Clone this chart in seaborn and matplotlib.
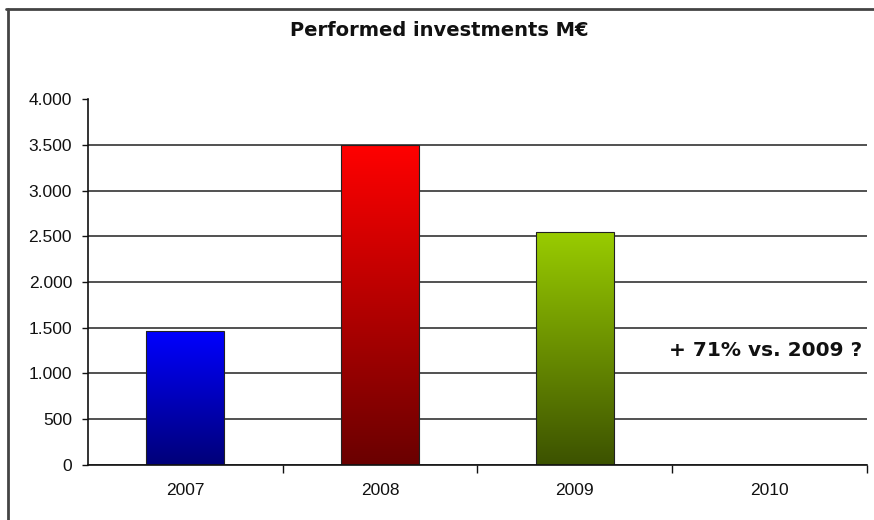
import numpy as np
import pandas as pd
import seaborn as sns
import matplotlib.pyplot as plt
from matplotlib.colors import LinearSegmentedColormap
from matplotlib.ticker import FuncFormatter, FixedLocator
from matplotlib.lines import Line2D

years = ['2007', '2008', '2009', '2010']
invest = [1460, 3500, 2550, 0]
top_colors = ['#0000ff', '#ff0000', '#99cc00', '#ffffff']
bottom_colors = ['#000078', '#6a0000', '#3c5200', '#ffffff']
yticks = [0, 500, 1000, 1500, 2000, 2500, 3000, 3500, 4000]

df = pd.DataFrame({'year': years, 'invest': invest})

sns.set_theme(style='white')
plt.rcParams['font.family'] = ['Liberation Sans', 'DejaVu Sans']

fig = plt.figure(figsize=(8.74, 5.20), dpi=100)
ax = fig.add_axes([0.1007, 0.1067, 0.891, 0.702])

sns.barplot(data=df, x='year', y='invest', hue='year', palette=top_colors,
            width=0.4, legend=False, edgecolor='#222222', linewidth=0.8, ax=ax)

# gradient fill clipped to each bar
for patch, c_top, c_bot in zip(ax.patches, top_colors, bottom_colors):
    h = patch.get_height()
    if h <= 0:
        continue
    x0 = patch.get_x()
    w = patch.get_width()
    cmap = LinearSegmentedColormap.from_list('g', [c_bot, c_top])
    grad = np.linspace(0, 1, 256).reshape(-1, 1)
    im = ax.imshow(grad, cmap=cmap, origin='lower', aspect='auto',
                   extent=(x0, x0 + w, 0, h), zorder=patch.get_zorder())
    im.set_clip_path(patch)
    patch.set_facecolor('none')
    patch.set_zorder(patch.get_zorder() + 0.1)
ax.set_xlim(-0.5, 3.5)
ax.set_ylim(0, 4000)

# grid lines
ax.set_yticks(yticks)
ax.yaxis.grid(True, color='#222222', linewidth=1.1)
ax.set_axisbelow(True)
ax.get_ygridlines()[-1].set_visible(False)
ax.yaxis.set_major_formatter(FuncFormatter(lambda v, p: f'{int(v):,}'.replace(',', '.')))

ax.xaxis.set_minor_locator(FixedLocator([0.5, 1.5, 2.5, 3.5]))
ax.tick_params(axis='x', which='major', length=0, pad=13, labelsize=12.5, colors='#111111')
ax.tick_params(axis='x', which='minor', length=6, width=1, color='#111111', direction='out', bottom=True)
ax.tick_params(axis='y', length=4.5, width=1, color='#111111', direction='out', left=True,
               labelsize=12.5, labelcolor='#111111', pad=7)

for s in ['top', 'right']:
    ax.spines[s].set_visible(False)
for s in ['left', 'bottom']:
    ax.spines[s].set_color('#111111')
    ax.spines[s].set_linewidth(1.2)

ax.set_xlabel('')
ax.set_ylabel('')

ax.text(3.474, 1254, '+ 71% vs. 2009 ?', ha='right', va='center',
        fontsize=14.5, fontweight='bold', family='DejaVu Sans', color='#111111')

fig.text(439 / 874, 1 - 31 / 520, 'Performed investments M€', ha='center', va='center',
         fontsize=14, fontweight='bold', family='DejaVu Sans', color='#111111')

# outer frame (top and left only)
fig.add_artist(Line2D([6 / 874, 1], [1 - 9 / 520, 1 - 9 / 520], color='#444444', linewidth=2))
fig.add_artist(Line2D([8 / 874, 8 / 874], [0, 1 - 9 / 520], color='#444444', linewidth=2))

fig.savefig('out.png', dpi=100)
